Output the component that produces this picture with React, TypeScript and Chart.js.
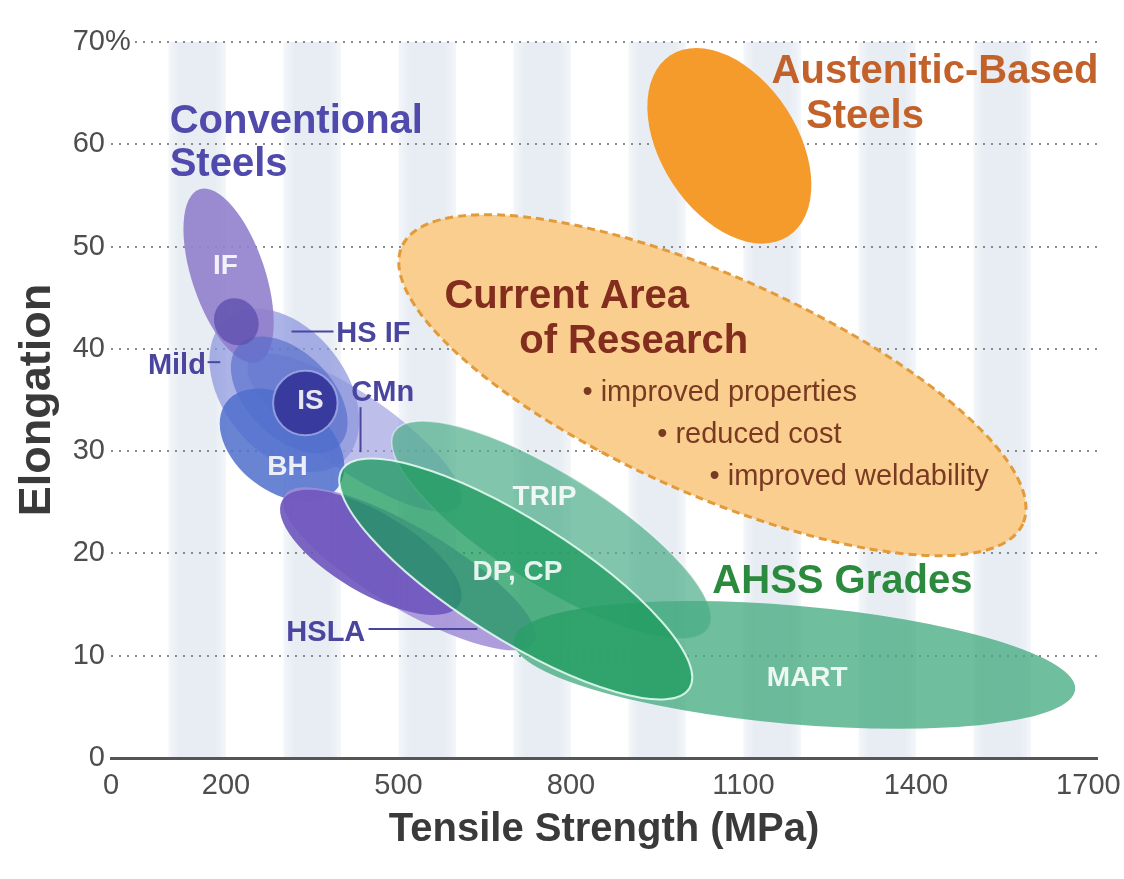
import React, { useEffect, useRef } from "react";
import { Chart, registerables } from "chart.js";

Chart.register(...registerables);

const FONT = '"Liberation Sans", Arial, Helvetica, sans-serif';

// ---- Axes ----
const xTickValues = [0, 200, 500, 800, 1100, 1400, 1700];
const xMin = 0;
const xMax = 1715;
const yMin = 0;
const yMax = 70;
const yStep = 10;
const yTopUnit = "%";

// ---- Background stripes (tensile-strength bands, MPa) ----
const stripeStart = [100, 300, 500, 700, 900, 1100, 1300, 1500];
const stripeEnd = [200, 400, 600, 800, 1000, 1200, 1400, 1600];

// ---- Property regions: long axis from (tsFrom, elFrom) to (tsTo, elTo), in (MPa, %) ----
const regionNames = [
  "Current Area of Research",
  "Austenitic-Based Steels",
  "CMn",
  "Mild",
  "IF",
  "HS IF",
  "IF / HS IF",
  "BH",
  "IS",
  "HSLA range",
  "HSLA",
  "TRIP",
  "MART",
  "DP, CP",
];
const regionTsFrom = [506, 973, 241, 202, 154, 223, 197, 201, 282, 302, 298, 493, 700, 402];
const regionElFrom = [50.0, 68.7, 38.9, 43.0, 55.6, 40.4, 44.7, 34.8, 34.7, 25.7, 25.2, 31.9, 11.5, 28.2];
const regionTsTo = [1586, 1178, 606, 401, 255, 397, 239, 394, 394, 736, 606, 1039, 1677, 1006];
const regionElTo = [22.9, 51.0, 24.7, 28.9, 38.7, 30.6, 40.6, 26.4, 34.7, 11.3, 15.0, 12.7, 6.7, 6.8];
// width of each region relative to its length
const regionSpread = [0.32, 0.63, 0.3, 0.67, 0.4, 0.6, 0.9, 0.66, 1, 0.28, 0.39, 0.3, 0.21, 0.29];

// ---- Text annotations ----
const labelTexts = [
  "Conventional", "Steels",
  "Austenitic-Based", "Steels",
  "Current Area", "of Research",
  "\u2022 improved properties", "\u2022 reduced cost", "\u2022 improved weldability",
  "AHSS Grades",
  "IF", "IS", "BH", "TRIP", "DP, CP", "MART",
  "Mild", "HS IF", "CMn", "HSLA",
];
const labelTs = [102, 102, 1149, 1209, 580, 710, 820, 950, 1041, 1046, 199, 347, 307, 754, 707, 1211, 165, 392, 418, 305];
const labelEl = [62.2, 58.0, 67.1, 62.7, 45.1, 40.7, 35.7, 31.6, 27.5, 17.2, 48.1, 34.9, 28.4, 25.5, 18.2, 7.8, 38.3, 41.5, 35.7, 12.2];

// ---- Leader lines ----
const leaderTsFrom = [168, 314, 434, 448];
const leaderElFrom = [38.7, 41.7, 34.3, 12.6];
const leaderTsTo = [190, 387, 434, 637];
const leaderElTo = [38.7, 41.7, 29.9, 12.6];

// ---- Styles ----
const TICK_FONT = { family: FONT, size: 29 };
const TICK_COLOR = "#4d4d4d";
const Y_TICK_PAD = 6;

const regionStyles: Record<string, any> = {
  "Current Area of Research": { fill: "#F9CE8F", stroke: "#E39A3A", width: 3, dash: [8, 5] },
  "Austenitic-Based Steels": { fill: "#F49B2C" },
  CMn: { fill: "rgba(150,150,222,0.62)" },
  Mild: { fill: "rgba(140,150,222,0.72)" },
  IF: { fill: "rgba(145,128,205,0.9)" },
  "HS IF": { fill: "rgba(80,105,200,0.62)" },
  "IF / HS IF": { fill: "rgba(95,80,175,0.8)" },
  BH: { fill: "rgba(80,110,205,0.85)" },
  IS: { fill: "rgba(55,55,155,0.95)", stroke: "rgba(175,185,235,0.7)", width: 2 },
  "HSLA range": { fill: "rgba(160,140,215,0.85)" },
  HSLA: { fill: "rgba(110,85,190,0.9)" },
  TRIP: { fill: "rgba(80,175,140,0.72)", stroke: "rgba(255,255,255,0.5)", width: 1.5 },
  MART: { fill: "rgba(70,172,130,0.78)" },
  "DP, CP": { fill: "rgba(30,155,95,0.76)", stroke: "rgba(235,255,245,0.85)", width: 2 },
};

const titleStyle = (color: string) => ({ font: `bold 40px ${FONT}`, color, align: "left" });
const innerStyle = { font: `bold 28px ${FONT}`, color: "rgba(255,255,255,0.88)", align: "center" };
const calloutStyle = { font: `bold 29px ${FONT}`, color: "#4A46A0", align: "left" };
const bulletStyle = { font: `29px ${FONT}`, color: "#7A3A22", align: "left" };

const labelStyles: any[] = [
  titleStyle("#4F4AAB"), titleStyle("#4F4AAB"),
  titleStyle("#C3612B"), titleStyle("#C3612B"),
  titleStyle("#822D1E"), titleStyle("#822D1E"),
  bulletStyle, bulletStyle, bulletStyle,
  titleStyle("#2B8A3E"),
  innerStyle, innerStyle, innerStyle, innerStyle, innerStyle, innerStyle,
  { ...calloutStyle, align: "right" }, calloutStyle, calloutStyle, calloutStyle,
];

const steelPlugin = {
  id: "steelRegions",
  beforeDraw(chart: any) {
    const { ctx, chartArea, scales } = chart;
    const xs = scales.x;
    ctx.save();
    for (let i = 0; i < stripeStart.length; i++) {
      const x1 = xs.getPixelForValue(stripeStart[i]);
      const x2 = xs.getPixelForValue(stripeEnd[i]);
      const g = ctx.createLinearGradient(x1, 0, x2, 0);
      g.addColorStop(0, "rgba(230,236,243,0.45)");
      g.addColorStop(0.2, "#E7EDF3");
      g.addColorStop(0.8, "#E7EDF3");
      g.addColorStop(1, "rgba(230,236,243,0.45)");
      ctx.fillStyle = g;
      ctx.fillRect(x1, chartArea.top, x2 - x1, chartArea.bottom - chartArea.top);
    }
    ctx.restore();
  },
  beforeDatasetsDraw(chart: any) {
    const { ctx, scales } = chart;
    const xs = scales.x;
    const ys = scales.y;
    ctx.save();
    for (let i = 0; i < regionNames.length; i++) {
      const st = regionStyles[regionNames[i]];
      const x1 = xs.getPixelForValue(regionTsFrom[i]);
      const y1 = ys.getPixelForValue(regionElFrom[i]);
      const x2 = xs.getPixelForValue(regionTsTo[i]);
      const y2 = ys.getPixelForValue(regionElTo[i]);
      const cx = (x1 + x2) / 2;
      const cy = (y1 + y2) / 2;
      const a = Math.hypot(x2 - x1, y2 - y1) / 2;
      const b = a * regionSpread[i];
      const rot = Math.atan2(y2 - y1, x2 - x1);
      ctx.beginPath();
      ctx.ellipse(cx, cy, a, b, rot, 0, Math.PI * 2);
      ctx.fillStyle = st.fill;
      ctx.fill();
      if (st.stroke) {
        ctx.setLineDash(st.dash || []);
        ctx.lineWidth = st.width || 1;
        ctx.strokeStyle = st.stroke;
        ctx.stroke();
        ctx.setLineDash([]);
      }
    }
    ctx.restore();
  },
  afterDatasetsDraw(chart: any) {
    const { ctx, scales } = chart;
    const xs = scales.x;
    const ys = scales.y;
    ctx.save();
    ctx.strokeStyle = "#4A46A0";
    ctx.lineWidth = 2;
    for (let i = 0; i < leaderTsFrom.length; i++) {
      ctx.beginPath();
      ctx.moveTo(xs.getPixelForValue(leaderTsFrom[i]), ys.getPixelForValue(leaderElFrom[i]));
      ctx.lineTo(xs.getPixelForValue(leaderTsTo[i]), ys.getPixelForValue(leaderElTo[i]));
      ctx.stroke();
    }
    ctx.textBaseline = "middle";
    for (let i = 0; i < labelTexts.length; i++) {
      const st = labelStyles[i];
      ctx.font = st.font;
      ctx.fillStyle = st.color;
      ctx.textAlign = st.align;
      ctx.fillText(labelTexts[i], xs.getPixelForValue(labelTs[i]), ys.getPixelForValue(labelEl[i]));
    }
    // unit sign after the top y tick label (the axis box would clip it)
    ctx.font = `${TICK_FONT.size}px ${FONT}`;
    const ux = ys.right - Y_TICK_PAD;
    const uy = ys.getPixelForValue(yMax);
    const uw = ctx.measureText(yTopUnit).width;
    ctx.fillStyle = "#ffffff";
    ctx.fillRect(ux, uy - 4, uw + 4, 8);
    ctx.fillStyle = TICK_COLOR;
    ctx.textAlign = "left";
    ctx.fillText(yTopUnit, ux, uy);
    ctx.restore();
  },
};

export default function App() {
  const canvasRef = useRef<HTMLCanvasElement | null>(null);

  useEffect(() => {
    if (!canvasRef.current) return;
    const chart = new Chart(canvasRef.current, {
      type: "scatter",
      data: { datasets: [] },
      plugins: [steelPlugin],
      options: {
        animation: false,
        responsive: true,
        maintainAspectRatio: false,
        layout: { padding: { top: 42, right: 27, bottom: 0, left: 0 } },
        plugins: { legend: { display: false }, tooltip: { enabled: false } },
        scales: {
          x: {
            type: "linear",
            min: xMin,
            max: xMax,
            afterBuildTicks: (s: any) => {
              s.ticks = xTickValues.map((v) => ({ value: v }));
            },
            ticks: {
              autoSkip: false,
              maxRotation: 0,
              padding: 11,
              color: TICK_COLOR,
              font: TICK_FONT,
              callback: (v: any) => String(v),
            },
            grid: { display: false, drawTicks: false },
            border: { display: true, color: "#555555", width: 3 },
            title: {
              display: true,
              text: "Tensile Strength (MPa)",
              color: "#3a3a3a",
              font: { family: FONT, size: 40, weight: "bold" },
              padding: { top: 0, bottom: 25 },
            },
            afterFit: (s: any) => {
              s.height = 121;
              s.paddingLeft = 0;
              s.paddingRight = 0;
            },
          },
          y: {
            type: "linear",
            position: "left",
            weight: 0,
            min: yMin,
            max: yMax,
            ticks: {
              stepSize: yStep,
              padding: Y_TICK_PAD,
              color: TICK_COLOR,
              font: TICK_FONT,
              callback: (v: any) => String(v),
            },
            grid: { color: "#8a8a8a", lineWidth: 2, drawTicks: false },
            border: { display: false, dash: [2, 6] },
            afterFit: (s: any) => {
              s.width = 39;
              s.paddingTop = 0;
              s.paddingBottom = 0;
            },
          },
          yTitle: {
            type: "linear",
            position: "left",
            weight: 1,
            min: 0,
            max: 1,
            ticks: { display: false },
            grid: { display: false, drawTicks: false },
            border: { display: false },
            title: {
              display: true,
              text: "Elongation",
              color: "#3a3a3a",
              font: { family: FONT, size: 45, weight: "bold" },
              padding: { top: 11, bottom: 0 },
            },
            afterFit: (s: any) => {
              s.width = 72;
              s.paddingTop = 0;
              s.paddingBottom = 0;
            },
          },
        },
      } as any,
    });
    return () => chart.destroy();
  }, []);

  return (
    <div style={{ position: "fixed", left: 0, top: 0, width: 1124, height: 879, background: "#fff" }}>
      <canvas ref={canvasRef} />
    </div>
  );
}
